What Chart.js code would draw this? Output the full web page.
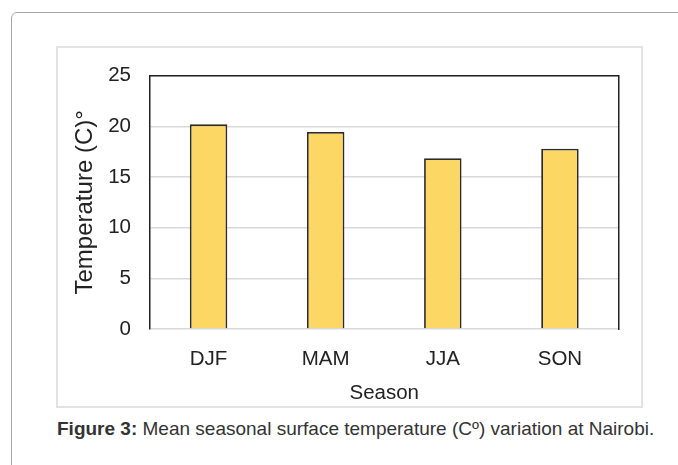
<!DOCTYPE html>
<html>
<head>
<meta charset="utf-8">
<script src="https://cdn.jsdelivr.net/npm/chart.js@4/dist/chart.umd.min.js"></script>
<style>
  html, body { margin: 0; padding: 0; background: #fff; overflow: hidden; }
  body { width: 678px; height: 465px; position: relative; font-family: "Liberation Sans", Arial, sans-serif; }
  .panel {
    position: absolute; left: 11px; top: 12px; width: 720px; height: 520px;
    border: 1px solid #a8a8a8; border-radius: 6px;
  }
  .figbox {
    position: absolute; left: 56px; top: 46px; width: 583px; height: 358px;
    border: 2px solid #e2e2e2;
  }
  #wrap { position: absolute; left: 0; top: 0; width: 583px; height: 358px; }
  .caption {
    position: absolute; left: 57px; top: 418px; font-size: 19px; color: #333; white-space: nowrap;
  }
</style>
</head>
<body>
<div class="panel"></div>
<div class="figbox">
  <div id="wrap"><canvas id="seasonChart"></canvas></div>
</div>
<div class="caption"><b>Figure 3:</b> Mean seasonal surface temperature (C&ordm;) variation at Nairobi.</div>

<script>
// seasonal means, Nairobi
const seasons = ['DJF', 'MAM', 'JJA', 'SON'];
const meanTemp = [20.2, 19.45, 16.85, 17.8];
const yTicks = [0, 5, 10, 15, 20, 25];

const ink = '#222';
const font = { family: '"Liberation Sans", Arial, sans-serif' };

new Chart(document.getElementById('seasonChart'), {
    type: 'bar',
    data: {
        labels: seasons,
        datasets: [{
            data: meanTemp,
            backgroundColor: '#fdd764',
            borderColor: '#2b2b2b',
            borderWidth: 1.8,
            categoryPercentage: 1,
            barPercentage: 0.32
        }]
    },
    options: {
        responsive: true,
        maintainAspectRatio: false,
        animation: false,
        layout: { padding: { left: 13, right: 22.5, top: 27.7, bottom: 0 } },
        plugins: { legend: { display: false }, tooltip: { enabled: false } },
        scales: {
            x: {
                grid: { display: false },
                border: { display: false },
                ticks: { color: ink, font: { ...font, size: 20.5 }, padding: 10 },
                title: { display: true, text: 'Season', color: ink, font: { ...font, size: 20.5 }, padding: { top: 3, bottom: 0 } },
                afterFit: s => { s.height = 77; }
            },
            xTop: {
                position: 'top',
                grid: { display: false },
                ticks: { display: false },
                border: { display: true, color: ink, width: 1.5 },
                afterFit: s => { s.height = 0; }
            },
            y: {
                min: 0,
                max: 25,
                afterBuildTicks: s => { s.ticks = yTicks.map(v => ({ value: v })); },
                grid: { color: '#d9d9d9', lineWidth: 1.5, drawTicks: false },
                border: { display: true, color: ink, width: 1.5 },
                ticks: { color: ink, font: { ...font, size: 20.5 }, padding: 19 },
                title: { display: true, text: 'Temperature (C)°', color: ink, font: { ...font, size: 24 }, padding: 0 },
                // tick padding would otherwise push the plot top down
                afterFit: s => { s.width = 79; s.paddingTop = 0; s.paddingBottom = 0; }
            },
            yRight: {
                position: 'right',
                min: 0,
                max: 25,
                grid: { display: false },
                ticks: { display: false },
                border: { display: true, color: ink, width: 1.5 },
                afterFit: s => { s.width = 0; }
            }
        }
    }
});
</script>
</body>
</html>
